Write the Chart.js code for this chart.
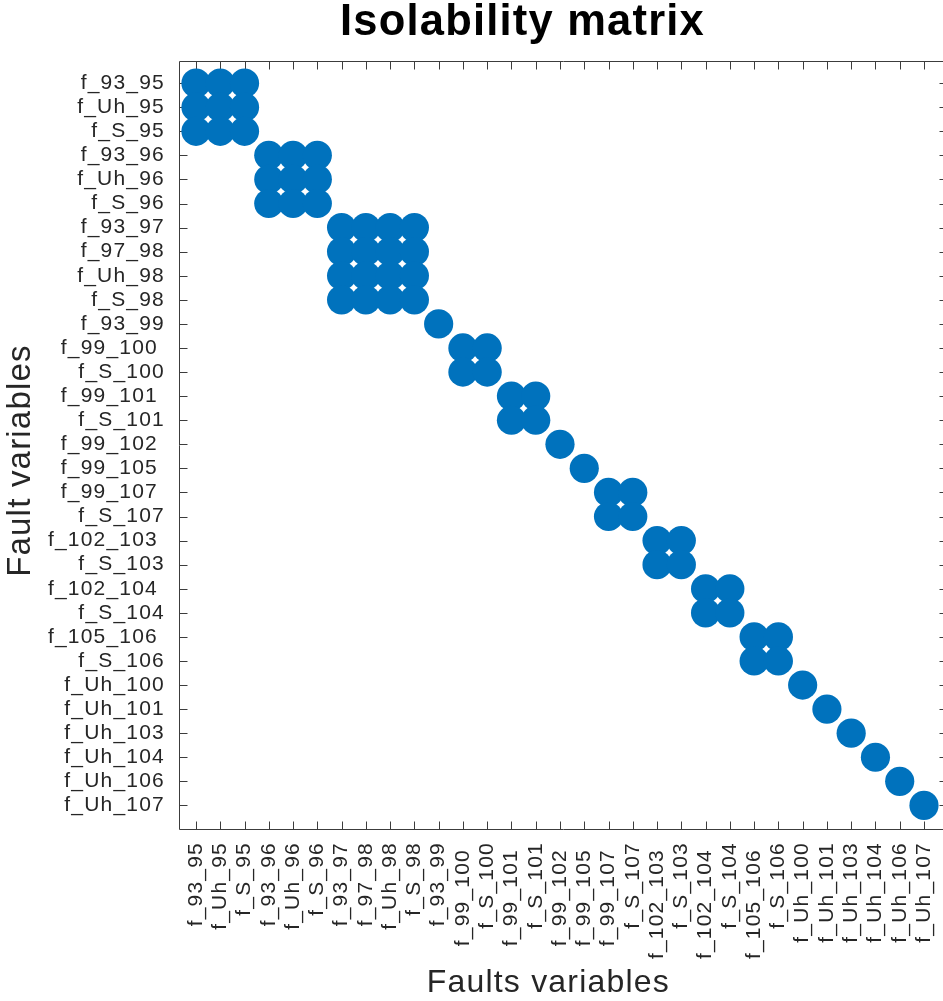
<!DOCTYPE html>
<html>
<head>
<meta charset="utf-8">
<title>Isolability matrix</title>
<script src="https://cdn.jsdelivr.net/npm/chart.js@4.4.1/dist/chart.umd.min.js"></script>
<style>
  html, body { margin: 0; padding: 0; overflow: hidden; background: #ffffff; }
  canvas { display: block; }
</style>
</head>
<body>
<canvas id="chart" width="952" height="1001"></canvas>
<script>
// Fault variables, in matrix order (rows top to bottom, columns left to right)
const faults = [
  'f_93_95', 'f_Uh_95', 'f_S_95',
  'f_93_96', 'f_Uh_96', 'f_S_96',
  'f_93_97', 'f_97_98', 'f_Uh_98', 'f_S_98',
  'f_93_99',
  'f_99_100 ', 'f_S_100',
  'f_99_101 ', 'f_S_101',
  'f_99_102 ',
  'f_99_105 ',
  'f_99_107 ', 'f_S_107',
  'f_102_103 ', 'f_S_103',
  'f_102_104 ', 'f_S_104',
  'f_105_106 ', 'f_S_106',
  'f_Uh_100', 'f_Uh_101', 'f_Uh_103', 'f_Uh_104', 'f_Uh_106', 'f_Uh_107'
];

// Number of consecutive faults in each group of faults that cannot be told apart
const classSizes = [3, 3, 4, 1, 2, 2, 1, 1, 2, 2, 2, 2, 1, 1, 1, 1, 1, 1];

// Chart titles
const chartTitle = 'Isolability matrix';
const xTitle = 'Faults variables   ';
const yTitle = 'Fault variables   ';

// One filled cell for every (row, column) pair inside the same group
const cells = [];
let first = 0;
classSizes.forEach(n => {
  for (let r = first; r < first + n; r++) {
    for (let c = first; c < first + n; c++) {
      cells.push({ x: c, y: r });
    }
  }
  first += n;
});

const FONT = "'Liberation Sans', Arial, Helvetica, sans-serif";
const INK = '#262626';
const MARK = '#0072BD';
const TRACKING = '1.2px';

// Slightly open letter spacing for all canvas text
const tracking = {
  id: 'tracking',
  beforeUpdate(chart) { chart.ctx.letterSpacing = TRACKING; },
  beforeDraw(chart) { chart.ctx.letterSpacing = TRACKING; }
};

// Title centred over the labelled figure rather than the whole canvas
const titlePlacement = {
  id: 'titlePlacement',
  afterLayout(chart) {
    const t = chart.titleBlock;
    if (t) { t.left = 97; t.right = chart.chartArea.right; }
  }
};

// Axes box with inward tick marks on all four sides
const frame = {
  id: 'frame',
  beforeDatasetsDraw(chart) {
    const { ctx, chartArea: a, scales: { x, y } } = chart;
    const L = Math.round(a.left) + 0.5, R = Math.round(a.right) - 0.5;
    const T = Math.round(a.top) + 0.5, B = Math.round(a.bottom) - 0.5;
    const len = 8;
    ctx.save();
    ctx.strokeStyle = '#3c3c3c';
    ctx.lineWidth = 1;
    ctx.beginPath();
    ctx.rect(L, T, R - L, B - T);
    x.ticks.forEach(t => {
      const px = Math.round(x.getPixelForValue(t.value)) + 0.5;
      ctx.moveTo(px, B); ctx.lineTo(px, B - len);
      ctx.moveTo(px, T); ctx.lineTo(px, T + len);
    });
    y.ticks.forEach(t => {
      const py = Math.round(y.getPixelForValue(t.value)) + 0.5;
      ctx.moveTo(L, py); ctx.lineTo(L + len, py);
      ctx.moveTo(R, py); ctx.lineTo(R - len, py);
    });
    ctx.stroke();
    ctx.restore();
  }
};

const indexTicks = scale => {
  scale.ticks = faults.map((_, i) => ({ value: i }));
};

new Chart(document.getElementById('chart'), {
  type: 'scatter',
  data: {
    datasets: [{
      data: cells,
      backgroundColor: MARK,
      borderWidth: 0,
      pointRadius: 14.6,
      pointHoverRadius: 14.6
    }]
  },
  plugins: [tracking, titlePlacement, frame],
  options: {
    responsive: false,
    animation: false,
    devicePixelRatio: 1,
    layout: { autoPadding: false, padding: { left: 0, right: 4, top: 0, bottom: 0 } },
    plugins: {
      legend: { display: false },
      tooltip: { enabled: false },
      title: {
        display: true,
        text: chartTitle,
        color: '#000000',
        font: { family: FONT, size: 43.5, weight: 'bold', lineHeight: 1 },
        padding: { top: 1, bottom: 16 }
      }
    },
    scales: {
      x: {
        type: 'linear',
        position: 'bottom',
        min: -0.7,
        max: 30.99,
        afterBuildTicks: indexTicks,
        afterFit(scale) {
          scale.height = 171.5;
          scale.paddingLeft = 0;
          scale.paddingRight = 0;
        },
        grid: { display: false, drawTicks: false },
        border: { display: false },
        ticks: {
          autoSkip: false,
          maxRotation: 90,
          minRotation: 90,
          padding: 12.5,
          color: INK,
          font: { family: FONT, size: 21 },
          callback: v => faults[v]
        },
        title: {
          display: true,
          text: xTitle,
          color: INK,
          font: { family: FONT, size: 32, lineHeight: 1 },
          padding: { top: 0, bottom: 2 }
        }
      },
      y: {
        type: 'linear',
        position: 'left',
        reverse: true,
        min: -0.94,
        max: 31,
        afterBuildTicks: indexTicks,
        afterFit(scale) {
          scale.width = 179;
          scale.paddingTop = 0;
          scale.paddingBottom = 0;
        },
        grid: { display: false, drawTicks: false },
        border: { display: false },
        ticks: {
          autoSkip: false,
          padding: 14,
          color: INK,
          font: { family: FONT, size: 21 },
          callback: v => faults[v]
        },
        title: {
          display: true,
          text: yTitle,
          color: INK,
          font: { family: FONT, size: 33, lineHeight: 1 },
          padding: { top: 4, bottom: 0 }
        }
      }
    }
  }
});
</script>
</body>
</html>
